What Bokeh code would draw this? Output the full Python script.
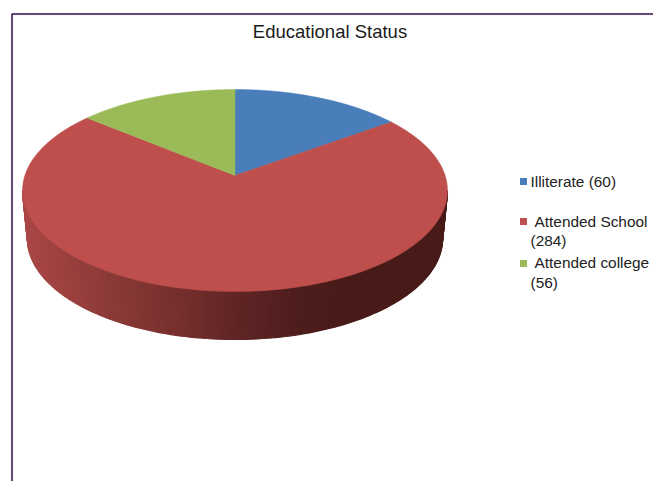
import numpy as np
from bokeh.core.properties import value
from bokeh.embed import file_html
from bokeh.plotting import figure
from bokeh.resources import INLINE

# Chart data
title_text = "Educational Status"
categories = ["Illiterate", "Attended School", "Attended college"]
counts = [60, 284, 56]
colors = ["#4A7EBB", "#BE4F4D", "#9BBB59"]
legend_lines = [["Illiterate (60)"], ["Attended School", "(284)"], ["Attended college", "(56)"]]

# Canvas in pixel units
W, H = 653, 481
FONT = value("Liberation Sans")

# Tilted disc: the unit circle is sent through a perspective projection
CX, CY = 234.5, 190.0
A, B, APEX_LIFT = 210.1, 101.0, 15.0
K = 2 * APEX_LIFT / (2 * B)
DEPTH = 48.0
BOTTOM_SCALE = 0.977


def project(theta):
    """Clockwise-from-top angle on the disc to canvas coordinates."""
    u, v = np.sin(theta), np.cos(theta)
    d = 1 + K * v
    return CX + A * u / d, CY - (B * v + APEX_LIFT) / d


p = figure(
    width=W, height=H, x_range=(0, W), y_range=(H, 0),
    output_backend="svg", toolbar_location=None,
    min_border=0, outline_line_color=None, background_fill_color="white",
    border_fill_color="white",
)
p.axis.visible = False
p.grid.visible = False

# Chart frame, open on the right and bottom
p.line([11.5, 11.5, W], [H, 13.5, 13.5], line_color="#E6DCEE", line_width=3, line_alpha=0.5)
p.line([11.5, 11.5, W], [H, 13.5, 13.5], line_color="#34174A", line_width=1.5)

# Rim of the disc: narrow strips shaded from left to right
shade_x = [22, 60, 100, 150, 200, 250, 300, 340, 447]
shade_r = [170, 158, 142, 128, 110, 92, 78, 73, 72]
shade_g = [72, 66, 60, 52, 44, 36, 30, 28, 27]
shade_b = [70, 64, 58, 50, 43, 36, 28, 26, 25]
ts = np.linspace(np.pi, 2 * np.pi, 181)
ell_a = 212.5
top_x = CX + ell_a * np.cos(ts)
top_y = CY - B * np.sin(ts)
bot_x = CX + ell_a * BOTTOM_SCALE * np.cos(ts)
bot_y = CY + DEPTH - B * np.sin(ts)
xs, ys, fills = [], [], []
for i in range(len(ts) - 1):
    xs.append([top_x[i], top_x[i + 1], bot_x[i + 1], bot_x[i]])
    ys.append([top_y[i], top_y[i + 1], bot_y[i + 1], bot_y[i]])
    mid = (top_x[i] + top_x[i + 1]) / 2
    r = int(np.interp(mid, shade_x, shade_r))
    g = int(np.interp(mid, shade_x, shade_g))
    b = int(np.interp(mid, shade_x, shade_b))
    fills.append(f"#{r:02x}{g:02x}{b:02x}")
# Same-coloured outlines close the hairline seams between neighbouring strips
p.patches(xs, ys, fill_color=fills, line_color=fills, line_width=1.2)

# Top face: slices run clockwise from twelve o'clock
total = sum(counts)
start = 0.0
apex_x, apex_y = CX, CY - APEX_LIFT
for count, color in zip(counts, colors):
    sweep = 2 * np.pi * count / total
    th = np.linspace(start, start + sweep, 240)
    ex, ey = project(th)
    p.patch(np.r_[apex_x, ex], np.r_[apex_y, ey], fill_color=color,
            line_color=color, line_width=0.5)
    start += sweep

# Title
p.text([329.5], [30.5], text=[title_text], text_font=FONT, text_font_size="18.5px",
       text_align="center", text_baseline="middle", text_color="#1a1a1a")

# Legend
swatch_y = [181, 221, 263]
line_x = [[530], [534, 530], [534, 530]]
line_y = [[180.5], [220.5, 239.5], [262, 281.5]]
for color, sy, lines, lx, ly in zip(colors, swatch_y, legend_lines, line_x, line_y):
    p.rect([523], [sy], width=7, height=7, fill_color=color, line_color=None)
    p.text(lx, ly, text=lines, text_font=FONT, text_font_size="15.4px",
           text_baseline="middle", text_color="#222222")

open("out.html", "w").write(file_html(p, INLINE))
